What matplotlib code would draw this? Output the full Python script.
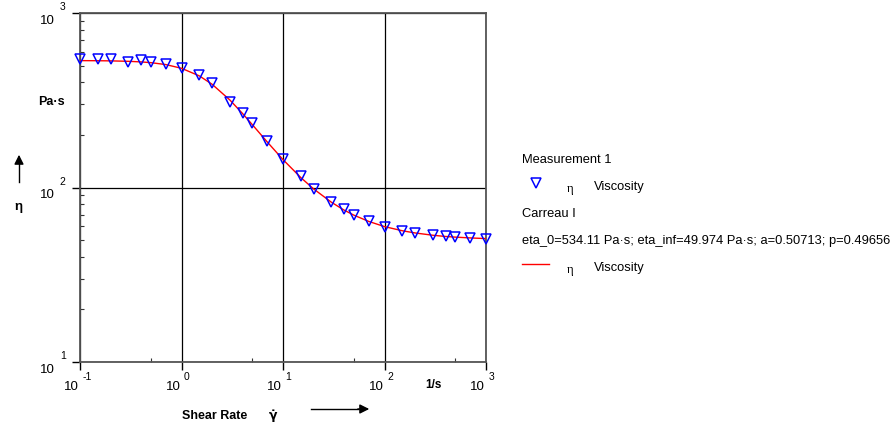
import numpy as np
import matplotlib.pyplot as plt
from matplotlib.ticker import FixedLocator, NullFormatter

plt.rcParams['font.family'] = ['Liberation Sans', 'DejaVu Sans']

# shear rate in 1/s
shear_rate = [0.1, 0.15, 0.2, 0.3, 0.4, 0.5, 0.7, 1, 1.5, 2, 3, 4, 5, 7,
              10, 15, 20, 30, 40, 50, 70, 100, 150, 200, 300, 400, 500, 700, 1000]
# measured viscosity in Pa·s
viscosity = [543, 543, 543, 526, 538, 522, 508, 486, 443, 395, 308, 268, 233, 184,
             146, 116, 98.4, 83, 75, 69.5, 64, 59.6, 56.5, 54.6, 53.2, 52.7, 52.2, 51.6, 50.9]
# Carreau I fit evaluated at the same shear rates
viscosity_fit = [533.5, 532.7, 531.7, 528.6, 524.5, 519.3, 506.4, 482.1, 436, 390.7,
                 317, 265.2, 228.7, 182.3, 144.5, 113.9, 98.2, 82.3, 74.2, 69.4,
                 63.9, 59.7, 56.5, 54.9, 53.25, 52.4, 51.95, 51.4, 50.97]

x_decades = [-1, 0, 1, 2, 3]
y_decades = [1, 2, 3]
fit_params = "eta_0=534.11 Pa·s; eta_inf=49.974 Pa·s; a=0.50713; p=0.49656"

W, H = 893, 425
fig = plt.figure(figsize=(W / 100, H / 100), dpi=100)
ax = fig.add_axes([80 / W, 1 - 362 / H, 406 / W, 349 / H])

ax.set_xscale('log')
ax.set_yscale('log')
ax.set_xlim(10.0 ** x_decades[0], 10.0 ** x_decades[-1])
ax.set_ylim(10.0 ** y_decades[0], 10.0 ** y_decades[-1])

ax.plot(shear_rate, viscosity_fit, color='red', lw=1.0, zorder=3)
ax.plot(shear_rate, viscosity, ls='none', marker='v', ms=6.8, mfc='none',
        mec='blue', mew=1.1, zorder=4, clip_on=False)

# decade grid
for d in x_decades:
    ax.axvline(10.0 ** d, color='black', lw=0.9, zorder=1)
for d in y_decades:
    ax.axhline(10.0 ** d, color='black', lw=0.9, zorder=1)

for s in ax.spines.values():
    s.set_color('#555555')
    s.set_linewidth(1.3)

ax.xaxis.set_major_locator(FixedLocator([10.0 ** d for d in x_decades]))
ax.yaxis.set_major_locator(FixedLocator([10.0 ** d for d in y_decades]))
ax.xaxis.set_minor_locator(FixedLocator([5 * 10.0 ** d for d in x_decades[:-1]]))
ax.yaxis.set_minor_locator(FixedLocator([m * 10.0 ** d for d in y_decades[:-1]
                                         for m in range(2, 10)]))
ax.xaxis.set_major_formatter(NullFormatter())
ax.yaxis.set_major_formatter(NullFormatter())
ax.xaxis.set_minor_formatter(NullFormatter())
ax.yaxis.set_minor_formatter(NullFormatter())
ax.tick_params(which='major', direction='out', length=6, width=1, color='black')
ax.tick_params(which='minor', direction='in', length=3, width=0.8, color='#333333')

# tick labels: "10" with a raised exponent
xt = ax.get_xaxis_transform()
for d in x_decades:
    ax.text(10.0 ** d * 0.98, -0.055, '10', transform=xt, ha='right', va='top', fontsize=9.5)
    ax.text(10.0 ** d * 1.06, -0.03, str(d), transform=xt, ha='left', va='top', fontsize=7.5)
yt = ax.get_yaxis_transform()
for d in y_decades:
    ax.text(-0.062, 10.0 ** d * 0.9, '10', transform=yt, ha='right', va='center', fontsize=9.5)
    ax.text(-0.035, 10.0 ** d * 1.08, str(d), transform=yt, ha='right', va='center', fontsize=7.5)

# axis titles
fig.text(442 / W, 1 - 385 / H, '1/s', ha='right', va='center', fontsize=8.5, fontweight='bold')
fig.text(182 / W, 1 - 416 / H, 'Shear Rate', ha='left', va='center', fontsize=9, fontweight='bold')
fig.text(273 / W, 1 - 416 / H, 'γ\u0307', ha='center', va='center', fontsize=9,
         fontweight='bold', family=['DejaVu Sans'])
fig.add_artist(plt.Line2D([311 / W, 358 / W], [1 - 409 / H, 1 - 409 / H], color='black', lw=1))
ax.annotate('', xy=(372 / W, 1 - 409 / H), xytext=(355 / W, 1 - 409 / H),
            xycoords='figure fraction', textcoords='figure fraction',
            arrowprops=dict(arrowstyle='-|>', color='black', lw=1, mutation_scale=14))

fig.text(38 / W, 1 - 102 / H, 'Pa·s', ha='left', va='center', fontsize=9, fontweight='bold')
fig.add_artist(plt.Line2D([19 / W, 19 / W], [1 - 182 / H, 1 - 162 / H], color='black', lw=1))
ax.annotate('', xy=(19 / W, 1 - 152 / H), xytext=(19 / W, 1 - 165 / H),
            xycoords='figure fraction', textcoords='figure fraction',
            arrowprops=dict(arrowstyle='-|>', color='black', lw=1, mutation_scale=14))
fig.text(18 / W, 1 - 207 / H, 'η', ha='center', va='center', fontsize=9.5, fontweight='bold')

# legend block
lx = 522 / W
fs = 9.3
fig.text(lx, 1 - 160 / H, 'Measurement 1', ha='left', va='center', fontsize=fs)
fig.add_artist(plt.Line2D([536 / W], [1 - 183 / H], marker='v', ms=6.5, mfc='none',
                          mec='blue', mew=1.1, ls='none'))
fig.text(570 / W, 1 - 189 / H, 'η', ha='center', va='center', fontsize=fs,
         family=['Liberation Serif'])
fig.text(594 / W, 1 - 187 / H, 'Viscosity', ha='left', va='center', fontsize=fs)
fig.text(lx, 1 - 214 / H, 'Carreau I', ha='left', va='center', fontsize=fs)
fig.text(lx, 1 - 241 / H, fit_params, ha='left', va='center', fontsize=fs)
fig.add_artist(plt.Line2D([522 / W, 549 / W], [1 - 264 / H, 1 - 264 / H], color='red', lw=1))
fig.text(570 / W, 1 - 270 / H, 'η', ha='center', va='center', fontsize=fs,
         family=['Liberation Serif'])
fig.text(594 / W, 1 - 268 / H, 'Viscosity', ha='left', va='center', fontsize=fs)

fig.savefig('out.png', dpi=100)
